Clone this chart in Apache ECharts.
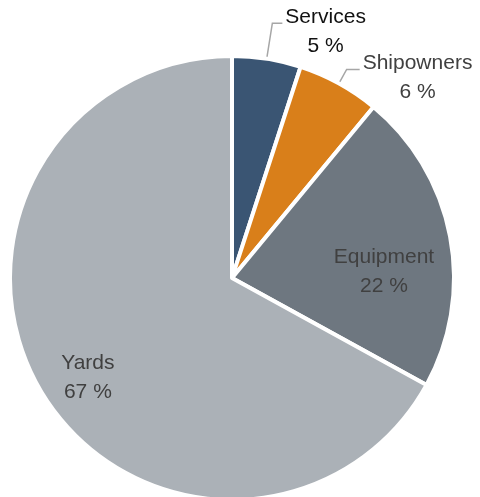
<!DOCTYPE html>
<html>
<head>
<meta charset="utf-8">
<script src="https://cdn.jsdelivr.net/npm/echarts@6/dist/echarts.min.js"></script>
<style>
  html, body { margin: 0; padding: 0; background: #ffffff; }
  #chart { width: 480px; height: 497px; }
</style>
</head>
<body>
<div id="chart"></div>
<script>
// Market share by segment
const categories = ['Services', 'Shipowners', 'Equipment', 'Yards'];
const shares = [5, 6, 22, 67];
const sliceColors = ['#3a5573', '#d97f1a', '#6e7780', '#abb1b7'];

const FONT = '"Liberation Sans", Arial, sans-serif';

function richLabel(color) {
  return {
    formatter: '{t|{b}}\n{t|{c} %}',
    rich: {
      t: { fontFamily: FONT, fontSize: 21, lineHeight: 29, color: color, align: 'center' }
    }
  };
}

// per-slice label placement
const labelSetup = [
  { outside: true, color: '#111111', len: 36, len2: 10, pad: 18 },
  { outside: true, color: '#404040', len: 16, len2: 13, pad: 16 },
  { outside: false, color: '#404040', offset: [40, 15] },
  { outside: false, color: '#404040', offset: [-46, 42] }
];

const data = categories.map((name, i) => {
  const s = labelSetup[i];
  const item = {
    name: name,
    value: shares[i],
    itemStyle: { color: sliceColors[i] }
  };
  if (s.outside) {
    item.label = Object.assign(richLabel(s.color), {
      position: 'outside',
      distanceToLabelLine: 3,
      padding: [s.pad, 0, 0, 0]
    });
    item.labelLine = {
      show: true,
      length: s.len,
      length2: s.len2,
      smooth: false,
      lineStyle: { color: '#a6a6a6', width: 1.5 }
    };
  } else {
    item.label = Object.assign(richLabel(s.color), {
      position: 'inside',
      offset: s.offset
    });
    item.labelLine = { show: false };
  }
  return item;
});

const chart = echarts.init(document.getElementById('chart'), null, { renderer: 'canvas' });
chart.setOption({
  backgroundColor: '#ffffff',
  animation: false,
  series: [{
    type: 'pie',
    center: [232, 278],
    radius: [0, 222],
    startAngle: 90,
    clockwise: true,
    avoidLabelOverlap: false,
    labelLayout: { hideOverlap: false },
    itemStyle: { borderColor: '#ffffff', borderWidth: 4 },
    emphasis: { disabled: true },
    data: data
  }]
});
</script>
</body>
</html>
